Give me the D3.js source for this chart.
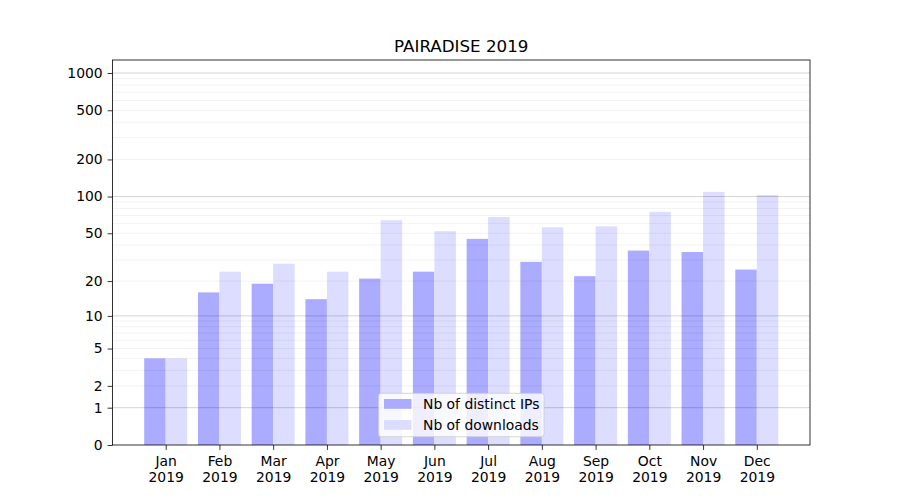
<!DOCTYPE html>
<html><head><meta charset="utf-8">
<script src="https://cdn.jsdelivr.net/npm/d3@7"></script>
<style>body{margin:0;background:#fff}svg{display:block;font-family:"DejaVu Sans",sans-serif}</style>
</head><body><svg id="c" width="900" height="500"></svg>
<script>
const months = ["Jan","Feb","Mar","Apr","May","Jun","Jul","Aug","Sep","Oct","Nov","Dec"];
const yearLabel = "2019";
const distinctIPs = [4,16,19,14,21,24,45,29,22,36,35,25];
const downloads = [4,24,28,24,64,52,68,56,57,75,109,103];
const yTickValues = [0,1,2,5,10,20,50,100,200,500,1000];
const majorGrid = [1,10,100,1000];
const minorGrid = [2,3,4,5,6,7,8,9,20,30,40,50,60,70,80,90,200,300,400,500,600,700,800,900];
const seriesNames = ["Nb of distinct IPs","Nb of downloads"];
const title = "PAIRADISE 2019";

const svg = d3.select("#c");
const L=112.5, R=810, T=60, B=445;
const x = d3.scaleLinear().domain([-0.99, 11.99]).range([L,R]);
const y = d3.scaleSymlog().constant(1).domain([0, 1273.5]).range([B,T]);
const colIP = "#ababff", colDL = "#ddddff";

// bars
const bw = 0.4;
svg.append("g").selectAll("rect").data(distinctIPs).join("rect")
  .attr("x",(d,i)=>x(i-bw)).attr("width",(d,i)=>x(i)-x(i-bw))
  .attr("y",d=>y(d)).attr("height",d=>B-y(d)).attr("fill",colIP);
svg.append("g").selectAll("rect").data(downloads).join("rect")
  .attr("x",(d,i)=>x(i)).attr("width",(d,i)=>x(i+bw)-x(i))
  .attr("y",d=>y(d)).attr("height",d=>B-y(d)).attr("fill",colDL);

// grid
const g = svg.append("g");
g.selectAll("line.mn").data(minorGrid).join("line").attr("class","mn")
  .attr("x1",L).attr("x2",R).attr("y1",d=>y(d)).attr("y2",d=>y(d))
  .attr("stroke","rgba(0,0,0,0.065)").attr("stroke-width",0.8);
g.selectAll("line.mj").data(majorGrid).join("line").attr("class","mj")
  .attr("x1",L).attr("x2",R).attr("y1",d=>y(d)).attr("y2",d=>y(d))
  .attr("stroke","rgba(0,0,0,0.21)").attr("stroke-width",0.8);

// y axis
const ya = svg.append("g").attr("transform",`translate(${L},0)`)
  .call(d3.axisLeft(y).tickValues(yTickValues).tickFormat(d3.format("d")).tickSize(4.9).tickPadding(4.9));
ya.select(".domain").remove();
ya.selectAll("text").attr("font-size","13.9px").attr("fill","#000").attr("font-family","DejaVu Sans");
ya.selectAll("line").attr("stroke","#000").attr("stroke-width",0.8);

// x axis
const xa = svg.append("g").attr("transform",`translate(0,${B})`)
  .call(d3.axisBottom(x).tickValues(d3.range(months.length)).tickFormat(()=>"").tickSize(4.9));
xa.select(".domain").remove();
xa.selectAll("line").attr("stroke","#000").attr("stroke-width",0.8);
xa.selectAll(".tick").each(function(d){
  const t = d3.select(this).append("text").attr("fill","#000").attr("font-size","13.9px")
    .attr("text-anchor","middle").attr("font-family","DejaVu Sans");
  t.append("tspan").attr("x",0).attr("y",21).text(months[d]);
  t.append("tspan").attr("x",0).attr("y",37).text(yearLabel);
});

// frame
svg.append("rect").attr("x",L).attr("y",T).attr("width",R-L).attr("height",B-T)
  .attr("fill","none").attr("stroke","#000").attr("stroke-width",0.8);

// title
svg.append("text").attr("x",(L+R)/2).attr("y",52).attr("text-anchor","middle")
  .attr("font-size","16.7px").attr("fill","#000").text(title);

// legend
const lg = svg.append("g");
lg.append("rect").attr("x",378.5).attr("y",393.3).attr("width",165.5).attr("height",43.4)
  .attr("rx",2.8).attr("fill","rgba(255,255,255,0.8)").attr("stroke","#cccccc").attr("stroke-width",0.8);
[colIP,colDL].forEach((c,i)=>{
  lg.append("rect").attr("x",384).attr("y",399+i*21).attr("width",27.5).attr("height",9.8).attr("fill",c);
  lg.append("text").attr("x",423).attr("y",408.6+i*21).attr("font-size","13.9px").attr("fill","#000").text(seriesNames[i]);
});
</script></body></html>
